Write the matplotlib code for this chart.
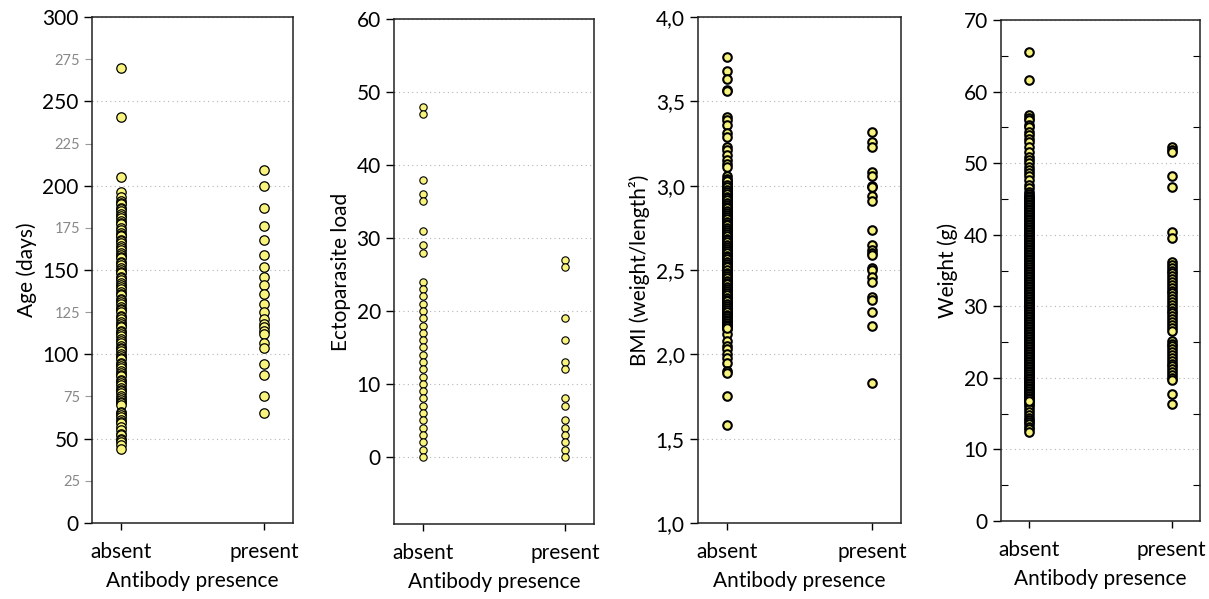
import matplotlib.pyplot as plt
from matplotlib.ticker import MultipleLocator, FuncFormatter

plt.rcParams['font.family'] = ['Lato', 'DejaVu Sans']

groups = ['absent', 'present']

# Age (days)
age_absent = [270, 241, 205, 196, 193, 191, 190, 189, 187, 186, 185, 183, 182, 181, 179, 178, 177,
              175, 174, 172, 171, 170, 170, 168, 167, 166, 164, 163, 162, 160, 159, 158, 157, 155,
              154, 153, 151, 150, 149, 148, 146, 145, 144, 142, 141, 140, 139, 137, 136, 135, 133,
              132, 131, 130, 128, 127, 126, 125, 123, 122, 121, 119, 118, 117, 116, 114, 113, 112,
              111, 109, 108, 107, 105, 104, 103, 102, 100, 99, 98, 97, 95, 94, 93, 92, 90, 89, 88,
              87, 85, 84, 83, 82, 80, 79, 78, 77, 75, 74, 73, 72, 71, 70, 66, 65, 64, 63, 61, 60,
              59, 57, 55, 53, 52, 50, 49, 48, 46, 44]
age_present = [209, 200, 187, 176, 168, 159, 152, 146, 141, 136, 130, 125, 121, 118, 116, 114,
               112, 107, 104, 94, 88, 75, 65]

# Ectoparasite load
ecto_absent = [48, 47, 38, 36, 35, 31, 29, 28, 24, 23, 22, 21, 20, 19, 18, 17, 16, 15, 14, 13,
               12, 11, 10, 9, 8, 7, 6, 5, 4, 3, 2, 1, 0]
ecto_present = [27, 26, 19, 16, 13, 12, 8, 7, 5, 4, 3, 2, 1, 0]

# BMI (weight/length^2)
bmi_absent = [3.76, 3.68, 3.63, 3.57, 3.56, 3.41, 3.39, 3.36, 3.31, 3.29, 3.23, 3.21, 3.18, 3.15,
              3.13, 3.11, 3.06, 3.04, 3.03, 3.02, 3.01, 2.995, 2.985, 2.98, 2.97, 2.96, 2.955,
              2.945, 2.94, 2.93, 2.92, 2.91, 2.905, 2.895, 2.89, 2.88, 2.87, 2.86, 2.855, 2.845,
              2.84, 2.83, 2.82, 2.81, 2.805, 2.795, 2.79, 2.78, 2.77, 2.76, 2.755, 2.745, 2.74,
              2.73, 2.72, 2.71, 2.705, 2.695, 2.69, 2.68, 2.67, 2.66, 2.655, 2.645, 2.64, 2.63,
              2.62, 2.61, 2.605, 2.595, 2.59, 2.58, 2.57, 2.56, 2.555, 2.545, 2.54, 2.53, 2.52,
              2.51, 2.505, 2.495, 2.49, 2.48, 2.47, 2.46, 2.455, 2.445, 2.44, 2.43, 2.42, 2.41,
              2.405, 2.395, 2.39, 2.38, 2.37, 2.36, 2.355, 2.345, 2.34, 2.33, 2.32, 2.31, 2.305,
              2.295, 2.29, 2.28, 2.27, 2.26, 2.255, 2.245, 2.24, 2.23, 2.22, 2.21, 2.2, 2.19,
              2.18, 2.17, 2.16, 2.15, 2.12, 2.08, 2.05, 2.03, 2.0, 1.98, 1.95, 1.9, 1.89, 1.75,
              1.58,
              3.025, 3.005, 2.99, 2.975, 2.965, 2.95, 2.935, 2.925, 2.915, 2.9, 2.885, 2.875,
              2.865, 2.85, 2.835, 2.825, 2.815, 2.8, 2.785, 2.775, 2.765, 2.75, 2.735, 2.725,
              2.715, 2.7, 2.685, 2.675, 2.665, 2.65, 2.635, 2.625, 2.615, 2.6, 2.585, 2.575,
              2.565, 2.55, 2.535, 2.525, 2.515, 2.5, 2.485, 2.475, 2.465, 2.45, 2.435, 2.425,
              2.415, 2.4, 2.385, 2.375, 2.365, 2.35, 2.335, 2.325, 2.315, 2.3, 2.285, 2.275,
              2.265, 2.25, 2.235, 2.225, 2.215, 2.205, 2.195, 2.185, 2.175, 2.165, 2.155]
bmi_present = [3.32, 3.26, 3.23, 3.08, 3.06, 3.0, 2.99, 2.94, 2.91, 2.74, 2.65, 2.62, 2.6, 2.59,
               2.51, 2.5, 2.46, 2.43, 2.34, 2.32, 2.25, 2.17, 1.83]

# Weight (g)
weight_absent = [65.5, 61.6, 56.7, 56.3, 56.0, 55.4, 55.0, 54.4, 54.0, 53.4, 52.9, 52.3, 51.6,
                 50.9, 50.4, 50.0, 49.5, 49.0, 48.6, 48.2, 47.6, 47.0, 46.5, 46.0, 45.7, 45.4,
                 45.1, 44.9, 44.7, 44.4, 44.2, 44.0, 43.7, 43.5, 43.3, 43.0, 42.8, 42.6, 42.3,
                 42.1, 41.9, 41.6, 41.4, 41.2, 40.9, 40.7, 40.5, 40.2, 40.0, 39.8, 39.5, 39.3,
                 39.1, 38.8, 38.6, 38.4, 38.1, 37.9, 37.7, 37.4, 37.2, 37.0, 36.7, 36.5, 36.3,
                 36.0, 35.8, 35.6, 35.3, 35.1, 34.9, 34.6, 34.4, 34.2, 33.9, 33.7, 33.5, 33.2,
                 33.0, 32.8, 32.5, 32.3, 32.1, 31.8, 31.6, 31.4, 31.1, 30.9, 30.7, 30.4, 30.2,
                 30.0, 29.7, 29.5, 29.3, 29.0, 28.8, 28.6, 28.3, 28.1, 27.9, 27.6, 27.4, 27.2,
                 26.9, 26.7, 26.5, 26.2, 26.0, 25.8, 25.5, 25.3, 25.1, 24.8, 24.6, 24.4, 24.1,
                 23.9, 23.7, 23.4, 23.2, 23.0, 22.7, 22.5, 22.3, 22.0, 21.8, 21.6, 21.3, 21.1,
                 20.9, 20.6, 20.4, 20.2, 19.9, 19.7, 19.5, 19.2, 19.0, 18.8, 18.5, 18.3, 18.1,
                 17.8, 17.6, 17.4, 17.1, 16.9, 16.6, 16.3, 16.0, 15.6, 15.2, 14.8, 14.4, 14.1,
                 13.8, 13.5, 13.1, 12.8, 12.5,
                 45.25, 45.0, 44.8, 44.55, 44.3, 44.1, 43.85, 43.6, 43.4, 43.15, 42.9, 42.7,
                 42.45, 42.2, 42.0, 41.75, 41.5, 41.3, 41.05, 40.8, 40.6, 40.35, 40.1, 39.9,
                 39.65, 39.4, 39.2, 38.95, 38.7, 38.5, 38.25, 38.0, 37.8, 37.55, 37.3, 37.1,
                 36.85, 36.6, 36.4, 36.15, 35.9, 35.7, 35.45, 35.2, 35.0, 34.75, 34.5, 34.3,
                 34.05, 33.8, 33.6, 33.35, 33.1, 32.9, 32.65, 32.4, 32.2, 31.95, 31.7, 31.5,
                 31.25, 31.0, 30.8, 30.55, 30.3, 30.1, 29.85, 29.6, 29.4, 29.15, 28.9, 28.7,
                 28.45, 28.2, 28.0, 27.75, 27.5, 27.3, 27.05, 26.8, 26.6, 26.35, 26.1, 25.9,
                 25.65, 25.4, 25.2, 24.95, 24.7, 24.5, 24.25, 24.0, 23.8, 23.55, 23.3, 23.1,
                 22.85, 22.6, 22.4, 22.15, 21.9, 21.7, 21.45, 21.2, 21.0, 20.75, 20.5, 20.3,
                 20.05, 19.8, 19.6, 19.35, 19.1, 18.9, 18.65, 18.4, 18.2, 17.95, 17.7, 17.5,
                 17.25, 17.0, 16.8]
weight_present = [52.3, 51.9, 51.6, 48.2, 46.6, 40.4, 39.5, 36.2, 35.8, 35.4, 35.0, 34.6, 34.2,
                  33.8, 33.4, 33.0, 32.6, 32.2, 31.8, 31.4, 31.0, 30.6, 30.2, 29.8, 29.4, 29.0,
                  28.6, 28.2, 27.8, 27.4, 27.0, 26.6, 25.2, 24.8, 24.4, 24.0, 23.6, 23.2, 22.8,
                  22.4, 22.0, 21.6, 21.2, 20.8, 20.4, 20.0, 19.7, 17.7, 16.3]

FACE = '#f8f37c'


def dot_column(ax, absent, present, size, lw=0.8):
    ax.scatter([0] * len(absent), absent, s=size, c=FACE, edgecolors='black',
               linewidths=lw, zorder=3)
    ax.scatter([1] * len(present), present, s=size, c=FACE, edgecolors='black',
               linewidths=lw, zorder=3)


def style_axes(ax, ylabel):
    ax.set_xlim(-0.2, 1.2)
    ax.set_xticks([0, 1])
    ax.set_xticklabels(groups)
    ax.tick_params(axis='x', length=5, width=1, pad=9, labelsize=15)
    ax.tick_params(axis='y', which='major', length=6, width=1, labelsize=15)
    ax.yaxis.grid(True, which='major', linestyle=(0, (1, 3)), color='#b5b5b5', linewidth=0.8)
    ax.set_axisbelow(True)
    for sp in ax.spines.values():
        sp.set_linewidth(1.1)
        sp.set_color('#222222')
    ax.set_xlabel('Antibody presence', fontsize=15, labelpad=6)
    ax.set_ylabel(ylabel, fontsize=15)


fig = plt.figure(figsize=(12.09, 5.99), dpi=100)

ax1 = fig.add_axes([0.0761, 0.1269, 0.1663, 0.8447])
ax2 = fig.add_axes([0.3259, 0.1252, 0.1654, 0.8431])
ax3 = fig.add_axes([0.5773, 0.1269, 0.1679, 0.8447])
ax4 = fig.add_axes([0.8280, 0.1302, 0.1646, 0.8364])

# Age
dot_column(ax1, age_absent, age_present, 46, lw=0.9)
style_axes(ax1, 'Age (days)')
ax1.set_ylim(0, 300)
ax1.set_yticks(range(0, 301, 50))
minor_age = list(range(25, 300, 50))
ax1.set_yticks(minor_age, [str(v) for v in minor_age], minor=True)
ax1.tick_params(axis='y', which='minor', length=5, width=0.8, color='#999999',
                labelcolor='#888888', labelsize=10.5)

# Ectoparasite load
dot_column(ax2, ecto_absent, ecto_present, 28)
style_axes(ax2, 'Ectoparasite load')
ax2.set_ylim(-9.2, 60)
ax2.set_yticks(range(0, 61, 10))

# BMI
dot_column(ax3, bmi_absent, bmi_present, 38, lw=1.5)
style_axes(ax3, 'BMI (weight/length²)')
ax3.set_ylim(1.0, 4.0)
ax3.set_yticks([1.0, 1.5, 2.0, 2.5, 3.0, 3.5, 4.0])
ax3.yaxis.set_major_formatter(FuncFormatter(lambda v, p: f'{v:.1f}'.replace('.', ',')))

# Weight
dot_column(ax4, weight_absent, weight_present, 38, lw=1.5)
style_axes(ax4, 'Weight (g)')
ax4.set_ylim(0, 70)
ax4.set_yticks(range(0, 71, 10))
ax4.yaxis.set_minor_locator(MultipleLocator(5))
ax4.tick_params(axis='y', which='minor', direction='in', left=True, right=True,
                length=5, width=0.8)

fig.savefig('out.png', dpi=100)
